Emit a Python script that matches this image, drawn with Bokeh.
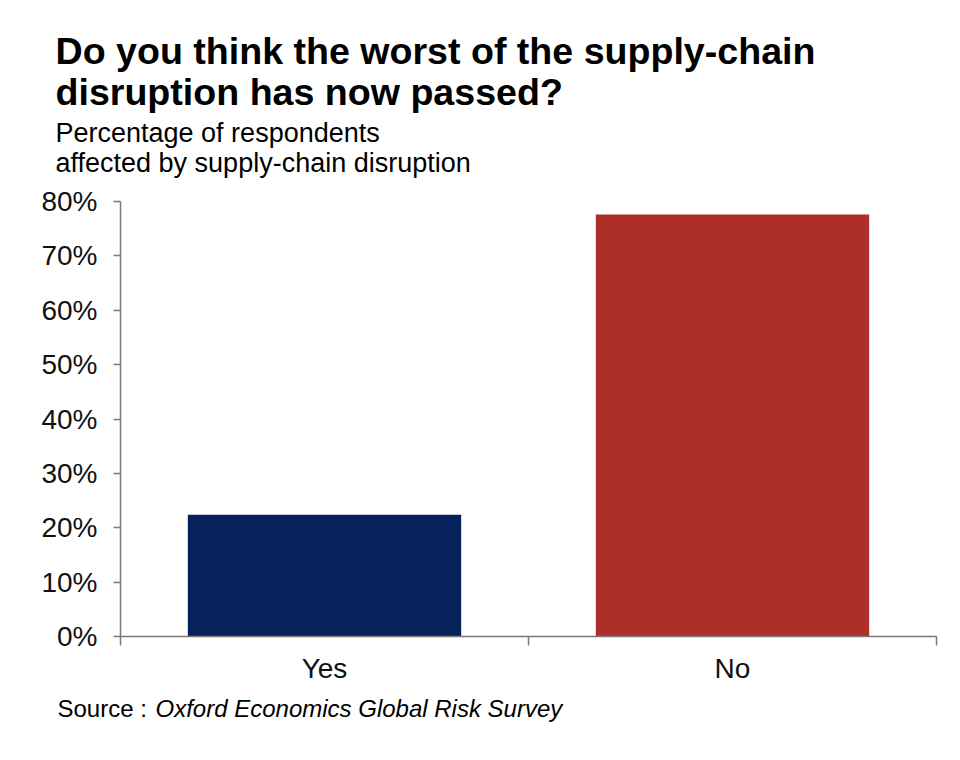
from bokeh.plotting import figure
from bokeh.layouts import column
from bokeh.models import Range1d, FixedTicker, NumeralTickFormatter, Label
from bokeh.embed import file_html
from bokeh.resources import INLINE

categories = ["Yes", "No"]
values = [0.224, 0.776]
colors = ["#07215a", "#ad2f2a"]
y_ticks = [0, 0.1, 0.2, 0.3, 0.4, 0.5, 0.6, 0.7, 0.8]

title_lines = ["Do you think the worst of the supply-chain", "disruption has now passed?"]
subtitle_lines = ["Percentage of respondents", "affected by supply-chain disruption"]
source_prefix = "Source : "
source_name = "Oxford Economics Global Risk Survey"

FONT = "Liberation Sans"
W = 952
HEAD_H = 185
MAIN_H = 511
FOOT_H = 44


def text_panel(h):
    f = figure(width=W, height=h, output_backend="svg", toolbar_location=None,
               x_range=Range1d(0, W), y_range=Range1d(0, h),
               x_axis_type=None, y_axis_type=None, min_border=0, frame_align=False)
    f.outline_line_color = None
    f.xgrid.visible = False
    f.ygrid.visible = False
    return f


def add_text(f, top, txt, page_x, page_y_baseline, size, style="normal"):
    corr = 0.35 * size
    f.add_layout(Label(x=page_x, y=top + f.height - page_y_baseline + corr,
                       text=txt, text_font=FONT, text_font_size=f"{size}px", text_font_style=style,
                       text_color="#000000", text_baseline="alphabetic", text_align="left"))


# header
head = text_panel(HEAD_H)
add_text(head, 0, title_lines[0], 55, 64, 37.6, "bold")
add_text(head, 0, title_lines[1], 55, 105, 37.6, "bold")
add_text(head, 0, subtitle_lines[0], 55, 142, 27)
add_text(head, 0, subtitle_lines[1], 55, 172, 27)

# main chart
p = figure(width=W, height=MAIN_H, output_backend="svg", toolbar_location=None,
           x_range=Range1d(0, len(categories)), y_range=Range1d(0, 0.8),
           min_border_left=120, min_border_right=16, min_border_top=16, min_border_bottom=60)
p.outline_line_color = None
p.xgrid.visible = False
p.ygrid.visible = False

xs = [i + 0.5 for i in range(len(categories))]
p.vbar(x=xs, top=values, width=0.67, color=colors, line_color=None)

yax = p.yaxis[0]
yax.ticker = FixedTicker(ticks=y_ticks)
yax.formatter = NumeralTickFormatter(format="0%")
yax.major_tick_in = 0
yax.major_tick_out = 7
yax.minor_tick_line_color = None
yax.axis_line_color = "#7a7a7a"
yax.axis_line_width = 1.5
yax.major_tick_line_color = "#7a7a7a"
yax.major_tick_line_width = 1.5
yax.major_label_text_font = FONT
yax.major_label_text_font_size = "28px"
yax.major_label_text_color = "#111111"
yax.major_label_standoff = 16

xax = p.xaxis[0]
xax.ticker = FixedTicker(ticks=xs, minor_ticks=list(range(len(categories) + 1)))
xax.major_label_overrides = {x: c for x, c in zip(xs, categories)}
xax.major_tick_in = 0
xax.major_tick_out = 0
xax.minor_tick_in = 0
xax.minor_tick_out = 9
xax.minor_tick_line_color = "#7a7a7a"
xax.minor_tick_line_width = 1.5
xax.axis_line_color = "#7a7a7a"
xax.axis_line_width = 1.5
xax.major_label_text_font = FONT
xax.major_label_text_font_size = "28px"
xax.major_label_text_color = "#111111"
xax.major_label_standoff = 7

# footer
foot_top = HEAD_H + MAIN_H
foot = text_panel(FOOT_H)
add_text(foot, foot_top, source_prefix, 57, 716, 24)
add_text(foot, foot_top, source_name, 155, 716, 24, "italic")

layout = column(head, p, foot, spacing=0)
open("out.html", "w").write(file_html(layout, INLINE))
